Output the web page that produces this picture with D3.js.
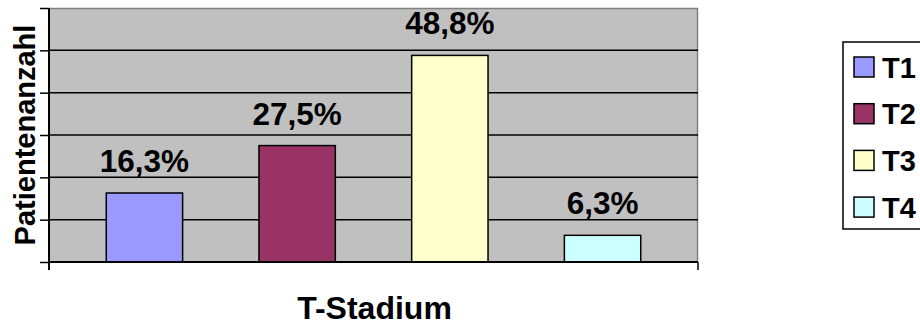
<!DOCTYPE html>
<html>
<head>
<meta charset="utf-8">
<script src="https://cdn.jsdelivr.net/npm/d3@7"></script>
<style>
  html, body { margin: 0; padding: 0; background: #ffffff; }
  svg { display: block; }
  text { font-family: "Liberation Sans", Arial, sans-serif; font-weight: bold; fill: #000; }
</style>
</head>
<body>
<svg id="chart" width="920" height="326"></svg>
<script>
// T-stage distribution (share of patients, %)
const stages = ["T1", "T2", "T3", "T4"];
const shares = [16.3, 27.5, 48.8, 6.3];
const labels = ["16,3%", "27,5%", "48,8%", "6,3%"];
const colors = ["#9999FF", "#993366", "#FFFFCC", "#CCFFFF"];
const yTicks = [0, 10, 20, 30, 40, 50, 60];

const svg = d3.select("#chart");
const plot = { left: 49, right: 698, top: 8, bottom: 262 };

const x = d3.scaleBand()
  .domain(stages)
  .range([plot.left, plot.right])
  .paddingInner(0.5)
  .paddingOuter(0.375);

const y = d3.scaleLinear()
  .domain([0, 60])
  .range([plot.bottom, plot.top]);

// plot area background
svg.append("rect")
  .attr("x", plot.left).attr("y", plot.top)
  .attr("width", plot.right - plot.left)
  .attr("height", plot.bottom - plot.top)
  .attr("fill", "#C0C0C0");

// thin grey frame on the top and right sides
svg.append("path")
  .attr("d", `M${plot.left},${plot.top + 0.5}H${plot.right - 0.5}V${plot.bottom}`)
  .attr("fill", "none")
  .attr("stroke", "#808080")
  .attr("stroke-width", 1.5);

// horizontal gridlines
svg.append("g")
  .selectAll("line")
  .data(yTicks.filter(t => t > 0 && t < 60))
  .join("line")
  .attr("x1", plot.left).attr("x2", plot.right)
  .attr("y1", d => y(d)).attr("y2", d => y(d))
  .attr("stroke", "#000").attr("stroke-width", 1.5);

// value axis (no tick labels, outer ticks only)
const yAxis = d3.axisLeft(y).tickValues(yTicks).tickFormat("").tickSize(9).tickSizeOuter(0);
const gy = svg.append("g")
  .attr("transform", `translate(${plot.left},0)`)
  .call(yAxis);
gy.select(".domain").remove();
gy.selectAll(".tick line").attr("stroke", "#000").attr("stroke-width", 1.5);
svg.append("line")
  .attr("x1", plot.left).attr("x2", plot.left)
  .attr("y1", plot.top).attr("y2", plot.bottom + 8)
  .attr("stroke", "#000").attr("stroke-width", 2);

// bars
svg.append("g")
  .selectAll("rect")
  .data(stages)
  .join("rect")
  .attr("x", d => x(d))
  .attr("y", (d, i) => y(shares[i]))
  .attr("width", x.bandwidth())
  .attr("height", (d, i) => y(0) - y(shares[i]))
  .attr("fill", (d, i) => colors[i])
  .attr("stroke", "#000")
  .attr("stroke-width", 1.5);

// category axis with end ticks
svg.append("line")
  .attr("x1", plot.left).attr("x2", plot.right)
  .attr("y1", plot.bottom).attr("y2", plot.bottom)
  .attr("stroke", "#000").attr("stroke-width", 2);
svg.append("line")
  .attr("x1", plot.right).attr("x2", plot.right)
  .attr("y1", plot.bottom).attr("y2", plot.bottom + 8)
  .attr("stroke", "#000").attr("stroke-width", 1.5);

// value labels above bars
svg.append("g")
  .selectAll("text")
  .data(stages)
  .join("text")
  .attr("x", d => x(d) + x.bandwidth() / 2)
  .attr("y", (d, i) => y(shares[i]) - 21)
  .attr("text-anchor", "middle")
  .attr("font-size", 31.5)
  .text((d, i) => labels[i]);

// axis titles
svg.append("text")
  .attr("transform", `translate(35,${(plot.top + plot.bottom) / 2}) rotate(-90)`)
  .attr("text-anchor", "middle")
  .attr("font-size", 29)
  .text("Patientenanzahl");

svg.append("text")
  .attr("x", (plot.left + plot.right) / 2 + 1)
  .attr("y", 318.5)
  .attr("text-anchor", "middle")
  .attr("font-size", 32)
  .text("T-Stadium");

// legend
const legend = svg.append("g");
legend.append("rect")
  .attr("x", 843).attr("y", 42)
  .attr("width", 90).attr("height", 187)
  .attr("fill", "#fff")
  .attr("stroke", "#000").attr("stroke-width", 1.5);
const item = legend.selectAll("g.item")
  .data(stages)
  .join("g")
  .attr("class", "item")
  .attr("transform", (d, i) => `translate(0,${57 + i * 46.7})`);
item.append("rect")
  .attr("x", 854).attr("y", 0)
  .attr("width", 20).attr("height", 20)
  .attr("fill", (d, i) => colors[i])
  .attr("stroke", "#000").attr("stroke-width", 1.5);
item.append("text")
  .attr("x", 882)
  .attr("y", 20.5)
  .attr("font-size", 29)
  .text(d => d);
</script>
</body>
</html>
